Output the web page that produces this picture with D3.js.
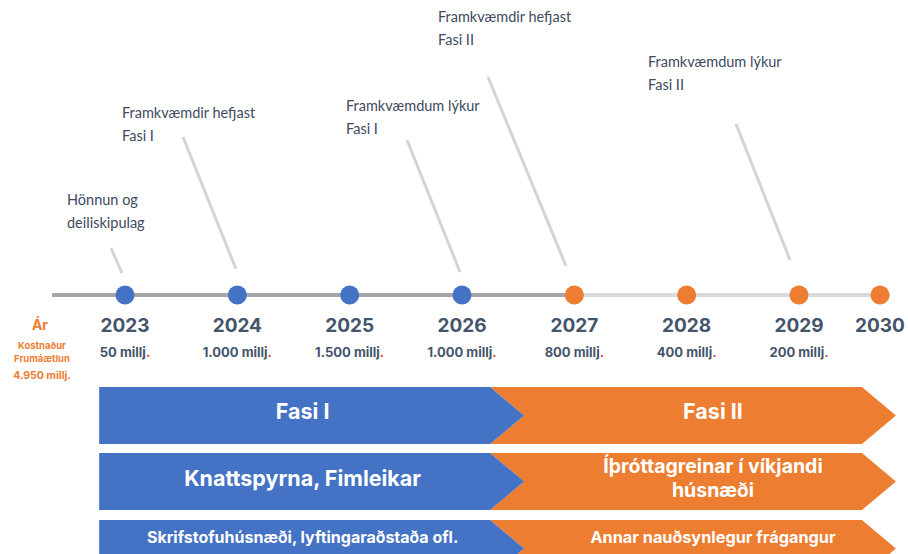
<!DOCTYPE html>
<html>
<head>
<meta charset="utf-8">
<script src="https://cdn.jsdelivr.net/npm/d3@7"></script>
<style>
  body { margin: 0; background: #fff; }
  .year { font-family: Inter, "Open Sans", sans-serif; font-weight: 700; font-size: 19px; fill: #44546a; }
  .cost { font-family: Inter, "Open Sans", sans-serif; font-weight: 700; font-size: 13px; fill: #44546a; }
  .note { font-family: Lato, sans-serif; font-size: 14.5px; fill: #404a5e; }
  .side { font-family: Inter, "Open Sans", sans-serif; font-weight: 700; fill: #ed7d31; }
  .band { font-family: Inter, "Open Sans", sans-serif; font-weight: 700; fill: #fff; }
</style>
</head>
<body>
<div id="chart"></div>
<script>
// Data ---------- ---------- ----------
let years = [2023, 2024, 2025, 2026, 2027, 2028, 2029, 2030];
let costs = ["50 millj", "1.000 millj", "1.500 millj", "1.000 millj", "800 millj", "400 millj", "200 millj", null];
let yearPhase = ["I", "I", "I", "I", "II", "II", "II", "II"];
let notes = [
  {year: 2023, lines: ["Hönnun og", "deiliskipulag"]},
  {year: 2024, lines: ["Framkvæmdir hefjast", "Fasi I"]},
  {year: 2026, lines: ["Framkvæmdum lýkur", "Fasi I"]},
  {year: 2027, lines: ["Framkvæmdir hefjast", "Fasi II"]},
  {year: 2029, lines: ["Framkvæmdum lýkur", "Fasi II"]}
];
let sideLabels = ["Kostnaður", "Frumáætlun", "4.950 millj."];
let phases = [
  {name: "I", start: 2022.77, end: 2026.25},
  {name: "II", start: 2026.25, end: 2029.56}
];
let rows = [
  {I: ["Fasi I"], II: ["Fasi II"]},
  {I: ["Knattspyrna, Fimleikar"], II: ["Íþróttagreinar í víkjandi", "húsnæði"]},
  {I: ["Skrifstofuhúsnæði, lyftingaraðstaða ofl."], II: ["Annar nauðsynlegur frágangur"]}
];

// Setup ---------- ---------- ----------
let W = 908, H = 554;
let blue = "#4472c4", orange = "#ed7d31";
let svg = d3.select("#chart").append("svg").attr("width", W).attr("height", H);

let x = d3.scaleLinear().domain([2023, 2029]).range([125, 799]);
let xp = d => Math.min(x(d), 880); // last year squeezed to the edge
let lineY = 295;

// Timeline ---------- ---------- ----------
svg.append("line").attr("x1", 52).attr("x2", xp(2027)).attr("y1", lineY).attr("y2", lineY)
    .attr("stroke", "#a6a6a6").attr("stroke-width", 4);
svg.append("line").attr("x1", xp(2027)).attr("x2", 890).attr("y1", lineY).attr("y2", lineY)
    .attr("stroke", "#dadada").attr("stroke-width", 4);

svg.selectAll(".dot").data(years).enter().append("circle")
    .attr("class", "dot")
    .attr("cx", d => xp(d)).attr("cy", lineY).attr("r", 9.5)
    .attr("fill", (d, i) => yearPhase[i] == "I" ? blue : orange);

svg.selectAll(".year").data(years).enter().append("text")
    .attr("class", "year").attr("text-anchor", "middle")
    .attr("x", d => xp(d)).attr("y", 332).text(d => d);

let cost = svg.selectAll(".cost").data(years.filter((d, i) => costs[i])).enter().append("text")
    .attr("class", "cost").attr("text-anchor", "middle")
    .attr("x", d => xp(d)).attr("y", 357);
cost.append("tspan").text((d, i) => costs[i]);
cost.append("tspan").attr("fill", "#e84c3d").text(".");

// Left labels
svg.append("text").attr("class", "side").attr("x", 40).attr("y", 330)
    .attr("text-anchor", "middle").attr("font-size", 14).text("Ár");
svg.selectAll(".sideL").data(sideLabels).enter().append("text")
    .attr("class", "side sideL").attr("text-anchor", "middle")
    .attr("font-size", (d, i) => i == 2 ? 10.5 : 9.5)
    .attr("x", 42).attr("y", (d, i) => [349, 362, 379][i]).text(d => d);

// Annotations ---------- ---------- ----------
let noteBox = [
  {tx: 67, ty: 205, x1: 111, y1: 248, x2: 122, y2: 273},
  {tx: 122, ty: 118, x1: 183, y1: 137, x2: 236, y2: 269},
  {tx: 346, ty: 111, x1: 407, y1: 140, x2: 460, y2: 272},
  {tx: 438, ty: 22, x1: 488, y1: 77, x2: 566, y2: 266},
  {tx: 648, ty: 67, x1: 736, y1: 124, x2: 790, y2: 260}
];
notes.forEach((n, i) => {
  let b = noteBox[i];
  svg.append("line").attr("x1", b.x1).attr("y1", b.y1).attr("x2", b.x2).attr("y2", b.y2)
      .attr("stroke", "#d4d4d4").attr("stroke-width", 3);
  let t = svg.append("text").attr("class", "note").attr("x", b.tx).attr("y", b.ty);
  n.lines.forEach((l, j) => t.append("tspan").attr("x", b.tx).attr("dy", j ? 23 : 0).text(l));
});

// Bands ---------- ---------- ----------
let rowTop = [387, 453, 520], rowH = 57, tip = 34;
let textMid = [411, 478, 537];                 // vertical centre of the text in each row
let fontSz = [[21.5, 21.5], [21.5, 19.5], [16, 16.3]];
function chevron(p, top, first) {
  let x0 = x(p.start), x1 = x(p.end), m = top + rowH / 2, b = top + rowH;
  let pts = [[x0, top], [x1, top], [x1 + tip, m], [x1, b], [x0, b]];
  if (!first) pts.push([x0 + tip, m]);
  return "M" + pts.join("L") + "Z";
}
rows.forEach((r, ri) => {
  let top = rowTop[ri];
  // draw orange first so blue tip sits on top
  [phases[1], phases[0]].forEach(p => {
    svg.append("path").attr("d", chevron(p, top, p.name == "I"))
        .attr("fill", p.name == "I" ? blue : orange);
  });
  phases.forEach((p, pi) => {
    let lines = r[p.name];
    let size = fontSz[ri][pi];
    let cx = p.name == "I" ? (x(p.start) + x(p.end)) / 2 + 8 : (x(p.start) + tip + x(p.end)) / 2 + 20;
    let lh = size * 1.22;
    let y0 = textMid[ri] - (lines.length - 1) * lh / 2 + size * 0.36;
    let t = svg.append("text").attr("class", "band").attr("text-anchor", "middle")
        .attr("font-size", size).attr("x", cx).attr("y", y0);
    lines.forEach((l, j) => t.append("tspan").attr("x", cx).attr("dy", j ? lh : 0).text(l));
  });
});
</script>
</body>
</html>
